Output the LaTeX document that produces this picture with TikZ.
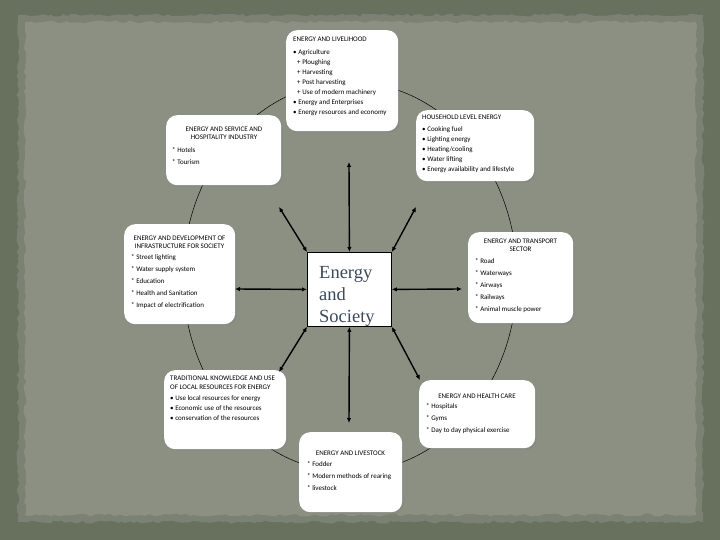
\documentclass[tikz,border=0pt]{standalone}
\usepackage{fontspec}
\setmainfont{Carlito}
\newfontfamily\hubfont{Liberation Serif}
\usetikzlibrary{positioning, arrows.meta, shadows, decorations.pathmorphing}

\definecolor{frame}{HTML}{68715D}
\definecolor{paperedge}{HTML}{7C8273}
\definecolor{paper}{HTML}{8B9083}
\definecolor{slate}{HTML}{3C4A5A}

\newcommand{\firstrow}{\rule{0pt}{7pt}}

\tikzset{
  card/.style={fill=white, rounded corners=11pt, anchor=north west, inner sep=0pt,
    drop shadow={shadow xshift=1.5pt, shadow yshift=-1.5pt, opacity=0.35}},
  head/.style={anchor=north, inner sep=0pt, align=center, font=\fontsize{7}{10}\selectfont},
  items/.style={anchor=north west, inner sep=0pt, align=left, font=\fontsize{7}{12}\selectfont},
  link/.style={{Latex[length=5pt,width=4.5pt]}-{Latex[length=5pt,width=4.5pt]}, line width=1.4pt},
}

\begin{document}
\begin{tikzpicture}[x=1pt,y=-1pt]
      \pgfmathsetseed{11}
      \useasboundingbox (0,0) rectangle (720,540);
      \fill[frame] (0,0) rectangle (720,540);
      \fill[paperedge, decorate, decoration={random steps, segment length=4pt, amplitude=1.5pt}] (18,15) rectangle (703,522);
      \fill[paper, decorate, decoration={random steps, segment length=5pt, amplitude=1.5pt}] (25,22) rectangle (696,515);

      \draw[line width=0.5pt] (350,277) ellipse [x radius=167pt, y radius=195pt];

      \node[card, minimum width=112pt, minimum height=101pt] (live) at (286,30) {};
      \node[items, font=\fontsize{7}{10}\selectfont] (livetext) at (293,34)
        {\firstrow ENERGY AND LIVELIHOOD\\[3pt] • Agriculture\\ \hspace*{4pt}+ Ploughing\\ \hspace*{4pt}+ Harvesting\\
         \hspace*{4pt}+ Post harvesting\\ \hspace*{4pt}+ Use of modern machinery\\ • Energy and Enterprises\\ • Energy resources and economy};

      \node[card, minimum width=115pt, minimum height=70pt] (serv) at (166,115) {};
      \node[head] (servhead) at (224,124) {\firstrow ENERGY AND SERVICE AND\\[-2pt] HOSPITALITY INDUSTRY};
      \node[items] (servtext) at (172,145) {\firstrow * Hotels\\ * Tourism};

      \node[card, minimum width=118pt, minimum height=71pt] (house) at (416,110) {};
      \node[items, font=\fontsize{7}{10}\selectfont] (housetext) at (422,112)
        {\firstrow HOUSEHOLD LEVEL ENERGY\\[2pt] • Cooking fuel\\ • Lighting energy\\ • Heating/cooling\\ • Water lifting\\ • Energy availability and lifestyle};

      \node[card, minimum width=111pt, minimum height=100pt] (infra) at (124,224) {};
      \node[head] (infrahead) at (179.5,233) {\firstrow ENERGY AND DEVELOPMENT OF\\[-2pt] INFRASTRUCTURE FOR SOCIETY};
      \node[items] (infratext) at (131,252)
        {\firstrow * Street lighting\\ * Water supply system\\ * Education\\ * Health and Sanitation\\ * Impact of electrification};

      \node[card, minimum width=105pt, minimum height=91pt] (trans) at (468,232) {};
      \node[head] (transhead) at (520.5,236) {\firstrow ENERGY AND TRANSPORT\\[-2pt] SECTOR};
      \node[items] (transtext) at (475,256)
        {\firstrow * Road\\ * Waterways\\ * Airways\\ * Railways\\ * Animal muscle power};

      \node[card, minimum width=122pt, minimum height=79pt] (trad) at (164,370) {};
      \node[items, font=\fontsize{7}{10}\selectfont] (tradtext) at (170,373)
        {\firstrow TRADITIONAL KNOWLEDGE AND USE\\[-1pt] OF LOCAL RESOURCES FOR ENERGY\\[1pt] • Use local resources for energy\\
         • Economic use of the resources\\ • conservation of the resources};

      \node[card, minimum width=116pt, minimum height=68pt] (health) at (419,380) {};
      \node[head] (healthhead) at (477,391) {\firstrow ENERGY AND HEALTH CARE};
      \node[items] (healthtext) at (426,401) {\firstrow * Hospitals\\ * Gyms\\ * Day to day physical exercise};

      \node[card, minimum width=103pt, minimum height=80pt] (stock) at (299,432) {};
      \node[head] (stockhead) at (350.5,448) {\firstrow ENERGY AND LIVESTOCK};
      \node[items] (stocktext) at (307,459) {\firstrow * Fodder\\ * Modern methods of rearing\\ * livestock};

      \node[draw=black, fill=white, line width=0.8pt, anchor=north west, inner sep=0pt,
        minimum width=84pt, minimum height=74pt] (hub) at (307,252) {};
      \node[anchor=north west, inner sep=0pt, align=left, text=slate, font=\hubfont\fontsize{18.5}{22}\selectfont]
        (hubtext) at (319,264) {\rule{0pt}{14pt}Energy\\ and\\ Society};

      \coordinate (aN) at (349,162);
      \coordinate (aNW) at (279,207);
      \coordinate (aNE) at (416,207);
      \coordinate (aW) at (235,289);
      \coordinate (aE) at (462,289);
      \coordinate (aSW) at (279,372);
      \coordinate (aS) at (349,423);
      \coordinate (aSE) at (420,380);
      \draw[link] (hub.north) -- (aN);
      \draw[link] (hub.north west) -- (aNW);
      \draw[link] (hub.north east) -- (aNE);
      \draw[link] (hub.west) -- (aW);
      \draw[link] (hub.east) -- (aE);
      \draw[link] (hub.south west) -- (aSW);
      \draw[link] (hub.south) -- (aS);
      \draw[link] (hub.south east) -- (aSE);
    \end{tikzpicture}
\end{document}
